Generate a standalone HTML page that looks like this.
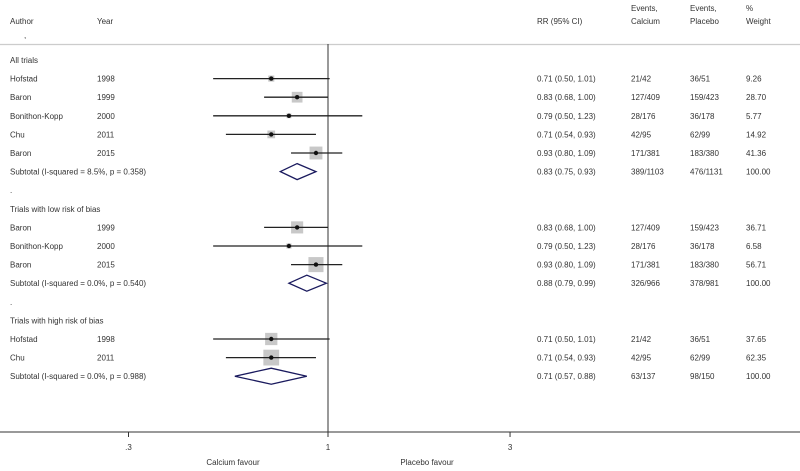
<!DOCTYPE html>
<html><head><meta charset="utf-8"><style>
body{margin:0;background:#fff;width:800px;height:466px;overflow:hidden}
svg text{font-family:"Liberation Sans",sans-serif;font-size:8px;fill:#333}
</style></head><body>
<svg id="plot" width="800" height="466"></svg>
<script>
const rowLabels=["All trials","Hofstad","Baron","Bonithon-Kopp","Chu","Baron","Subtotal  (I-squared = 8.5%, p = 0.358)",".","Trials with low risk of bias","Baron","Bonithon-Kopp","Baron","Subtotal  (I-squared = 0.0%, p = 0.540)",".","Trials with high risk of bias","Hofstad","Chu","Subtotal  (I-squared = 0.0%, p = 0.988)"];
const rowTypes=["h","s","s","s","s","s","d","b","h","s","s","s","d","b","h","s","s","d"];
const years=["","1998","1999","2000","2011","2015","","","","1999","2000","2015","","","","1998","2011",""];
const rr=[null,0.71,0.83,0.79,0.71,0.93,0.83,null,null,0.83,0.79,0.93,0.88,null,null,0.71,0.71,0.71];
const lo=[null,0.50,0.68,0.50,0.54,0.80,0.75,null,null,0.68,0.50,0.80,0.79,null,null,0.50,0.54,0.57];
const hi=[null,1.01,1.00,1.23,0.93,1.09,0.93,null,null,1.00,1.23,1.09,0.99,null,null,1.01,0.93,0.88];
const evCa=["","21/42","127/409","28/176","42/95","171/381","389/1103","","","127/409","28/176","171/381","326/966","","","21/42","42/95","63/137"];
const evPl=["","36/51","159/423","36/178","62/99","183/380","476/1131","","","159/423","36/178","183/380","378/981","","","36/51","62/99","98/150"];
const weights=[null,9.26,28.70,5.77,14.92,41.36,100,null,null,36.71,6.58,56.71,100,null,null,37.65,62.35,100];
const ticks=[0.3,1,3];
const tickLabels=[".3","1","3"];

const svg=document.getElementById('plot');
const NS="http://www.w3.org/2000/svg";
const xs=v=>328+165.7*Math.log(v);
const ys=i=>60+i*18.6;
function mk(tag,attrs,parent){const e=document.createElementNS(NS,tag);for(const k in attrs)e.setAttribute(k,attrs[k]);(parent||svg).appendChild(e);return e;}
function txt(x,y,s,name,anchor){const t=mk('text',{x:x,y:y,'text-anchor':anchor||'start'});t.textContent=s;


return t;}

// headers
txt(10,24,"Author","header-author");
txt(24,38,",","header-comma");
txt(97,24,"Year","header-year");
txt(537,24,"RR (95% CI)","header-rr");
txt(631,11,"Events,","header-events-calcium-1");
txt(631,24,"Calcium","header-events-calcium-2");
txt(690,11,"Events,","header-events-placebo-1");
txt(690,24,"Placebo","header-events-placebo-2");
txt(746,11,"%","header-weight-1");
txt(746,24,"Weight","header-weight-2");
const hl=mk('line',{x1:0,x2:800,y1:44.5,y2:44.5,stroke:'#ccc','stroke-width':1.2});



// null line
const nl=mk('line',{x1:xs(1),x2:xs(1),y1:44,y2:432,stroke:'#333','stroke-width':1});



rowLabels.forEach((lab,i)=>{
  const y=ys(i);
  txt(10,y+3,lab,'row-label-'+i);
  if(years[i])txt(97,y+3,years[i],'row-year-'+i);
  if(rr[i]!=null){
    txt(537,y+3,rr[i].toFixed(2)+" ("+lo[i].toFixed(2)+", "+hi[i].toFixed(2)+")",'row-rr-'+i);
    txt(631,y+3,evCa[i],'row-events-calcium-'+i);
    txt(690,y+3,evPl[i],'row-events-placebo-'+i);
    txt(746,y+3,weights[i].toFixed(2),'row-weight-'+i);
  }
  if(rowTypes[i]==='s'){
    const s=2*Math.sqrt(weights[i]);
    const b=mk('rect',{x:xs(rr[i])-s/2,y:y-s/2,width:s,height:s,fill:'#c8c8c8'});
    
    
    const l=mk('line',{x1:xs(lo[i]),x2:xs(hi[i]),y1:y,y2:y,stroke:'#222','stroke-width':1.3});
    
    
    const c=mk('circle',{cx:xs(rr[i]),cy:y,r:2.2,fill:'#111'});
    
    
  } else if(rowTypes[i]==='d'){
    const d=mk('polygon',{points:`${xs(lo[i])},${y} ${xs(rr[i])},${y-8} ${xs(hi[i])},${y} ${xs(rr[i])},${y+8}`,fill:'none',stroke:'#1a1a5e','stroke-width':1.3});
    
    
  }
});

// axis
const ax=mk('line',{x1:0,x2:800,y1:432,y2:432,stroke:'#333','stroke-width':1});


ticks.forEach((t,k)=>{
  const tk=mk('line',{x1:xs(t),x2:xs(t),y1:432,y2:437,stroke:'#333'});
  
  
  txt(xs(t),450,tickLabels[k],'x-tick-label-'+k,'middle');
});
txt(233,465,"Calcium favour","favours-calcium-label","middle");
txt(427,465,"Placebo favour","favours-placebo-label","middle");
</script>
</body></html>
